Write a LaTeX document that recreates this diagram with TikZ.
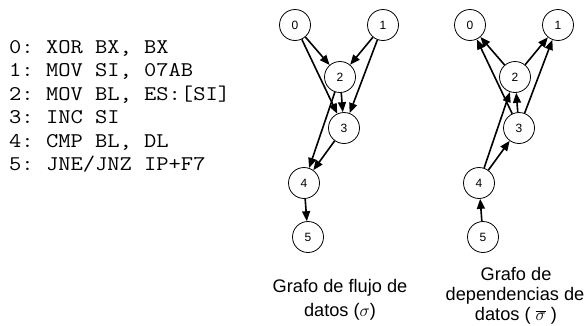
\documentclass[tikz,border=0pt]{standalone}
\usepackage{fontspec}
\setmainfont{Liberation Sans}
\setmonofont{Latin Modern Mono}[FakeStretch=1.14]
\usetikzlibrary{arrows.meta}
\begin{document}
\begin{tikzpicture}[x=1pt,y=-1pt,
  vertex/.style={circle,draw,line width=0.8pt,minimum size=31pt,inner sep=0pt,font=\fontsize{12}{14}\selectfont},
  edge/.style={line width=1.6pt,-{Triangle[length=10pt,width=8pt]}},
  codeline/.style={anchor=base west,inner sep=0pt,font=\ttfamily\fontsize{20.9}{24}\selectfont},
  caption/.style={anchor=base,inner sep=0pt,font=\fontsize{18.2}{21}\selectfont}]
\useasboundingbox (0,0) rectangle (586,325);
% code
\node[codeline] (c0) at (9,53) {0: XOR BX, BX};
\node[codeline] (c1) at (9,76.5) {1: MOV SI, 07AB};
\node[codeline] (c2) at (9,100) {2: MOV BL, ES:[SI]};
\node[codeline] (c3) at (9,123.5) {3: INC SI};
\node[codeline] (c4) at (9,147) {4: CMP BL, DL};
\node[codeline] (c5) at (9,170.5) {5: JNE/JNZ IP+F7};
% left graph
\node[vertex] (a0) at (295,25) {0};
\node[vertex] (a1) at (383,25) {1};
\node[vertex] (a2) at (340,77) {2};
\node[vertex] (a3) at (344,128) {3};
\node[vertex] (a4) at (304,183) {4};
\node[vertex] (a5) at (308,237) {5};
\draw[edge] (a0) -- (a2);
\draw[edge] (a0) -- (a3);
\draw[edge] (a1) -- (a2);
\draw[edge] (a1) -- (a3);
\draw[edge] (a2) -- (a3);
\draw[edge] (a2) -- (a4);
\draw[edge] (a3) -- (a4);
\draw[edge] (a4) -- (a5);
% right graph
\node[vertex] (b0) at (470,25) {0};
\node[vertex] (b1) at (558,25) {1};
\node[vertex] (b2) at (515,77) {2};
\node[vertex] (b3) at (519,128) {3};
\node[vertex] (b4) at (479,183) {4};
\node[vertex] (b5) at (483,237) {5};
\draw[edge] (b2) -- (b0);
\draw[edge] (b3) -- (b0);
\draw[edge] (b2) -- (b1);
\draw[edge] (b3) -- (b1);
\draw[edge] (b3) -- (b2);
\draw[edge] (b4) -- (b2);
\draw[edge] (b4) -- (b3);
\draw[edge] (b5) -- (b4);
% captions
\node[caption] (l1) at (340,292) {Grafo de flujo de};
\node[caption] (l2) at (340,316) {datos ($\sigma$)};
\node[caption] (r1) at (516,280) {Grafo de};
\node[caption] (r2) at (515,300) {dependencias de};
\node[caption] (r3) at (516,320) {datos ( $\overline{\sigma}$ )};
\end{tikzpicture}
\end{document}
